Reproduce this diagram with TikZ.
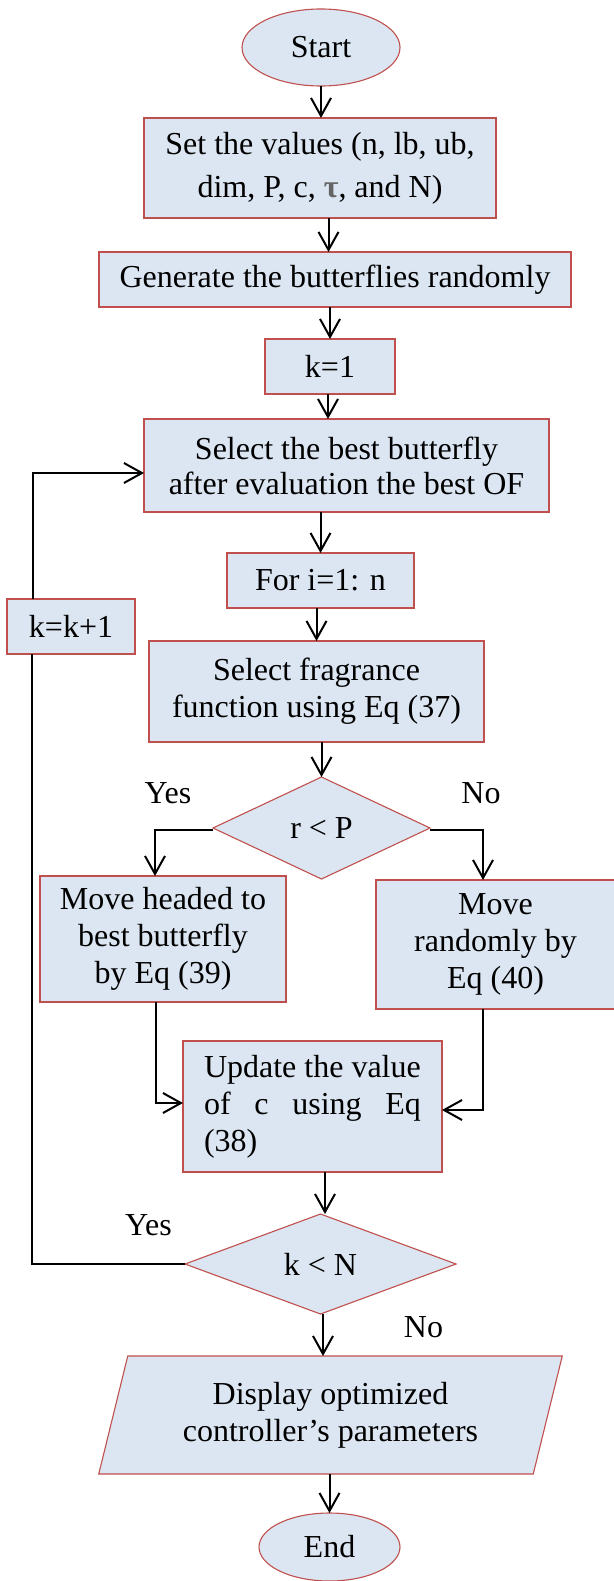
\documentclass[tikz,border=0pt]{standalone}
\usepackage{fontspec}
\setmainfont{Liberation Serif}
\usetikzlibrary{shapes.geometric,arrows.meta,calc,backgrounds}
\definecolor{boxfill}{RGB}{220,230,242}
\definecolor{boxline}{RGB}{192,80,77}
\definecolor{taugray}{RGB}{100,100,100}
\begin{document}
\begin{tikzpicture}[x=1pt,y=-1pt,
  every node/.style={font=\fontsize{32}{36.8}\selectfont, inner sep=0pt, outer sep=0pt},
  proc/.style={rectangle, draw=boxline, line width=1.1pt, fill=boxfill, align=center},
  term/.style={ellipse, draw=boxline, line width=1.1pt, fill=boxfill},
  cond/.style={diamond, draw=boxline, line width=1.1pt, fill=boxfill},
  flow/.style={line width=2pt, -{Straight Barb[length=18pt,width=20pt]}},
  link/.style={line width=2pt}]
\useasboundingbox (0,0) rectangle (613,1581);

% main column of steps
\node[term, minimum width=158pt, minimum height=77pt] (start) at (321,47.5) {Start};
\node[proc, minimum width=352pt, minimum height=100pt,
      font=\fontsize{32}{43.3}\selectfont] (set) at (320,168)
  {Set the values (n, lb, ub,\\dim, P, c, {\color{taugray}\bfseries τ}, and N)};
\node[proc, minimum width=472pt, minimum height=55pt] (gen) at (335,279.5)
  {Generate the butterflies randomly};
\node[proc, minimum width=130pt, minimum height=55pt] (k1) at (330,366.5) {k=1};
\node[proc, minimum width=405pt, minimum height=93pt,
      font=\fontsize{32}{35}\selectfont] (best) at (346.5,465.5)
  {Select the best butterfly\\after evaluation the best OF};
\node[proc, minimum width=187pt, minimum height=55pt] (fori) at (320.5,580.5) {For i=1: n};
\node[proc, minimum width=335pt, minimum height=101pt] (frag) at (316.5,691.5)
  {Select fragrance\\function using Eq (37)};
\node[proc, minimum width=128pt, minimum height=55pt] (kk) at (71,626.5) {k=k+1};

% first decision and its two branches
\node[cond, minimum width=217pt, minimum height=102pt] (d1) at (321.5,828) {r < P};
\node (yes1) at (168,793) {Yes};
\node (no1) at (481,793) {No};
\node[proc, minimum width=246pt, minimum height=126pt] (mvh) at (163,939)
  {Move headed to\\best butterfly\\by Eq (39)};
\node[proc, minimum width=239pt, minimum height=129pt] (mvr) at (495.5,944.5)
  {Move\\randomly by\\Eq (40)};
\node[proc, minimum width=259pt, minimum height=131pt, align=left] (upd) at (312.5,1106.5)
  {Update the value\\\makebox[217pt][s]{of c using Eq}\\(38)};

% loop test and output
\node[cond, minimum width=271pt, minimum height=100pt] (d2) at (320.5,1264) {k < N};
\node (yes2) at (148.5,1225) {Yes};
\node (no2) at (423.5,1327) {No};
\node[minimum width=434.5pt, minimum height=118pt, align=center] (disp) at (330.5,1415)
  {Display optimized\\controller’s parameters};
\begin{scope}[on background layer]
  \draw[draw=boxline, fill=boxfill, line width=1.1pt]
    ($(disp.north west)+(14.5,0)$) -- ($(disp.north east)+(14.5,0)$) --
    ($(disp.south east)+(-14.5,0)$) -- ($(disp.south west)+(-14.5,0)$) -- cycle;
\end{scope}
\node[term, minimum width=141pt, minimum height=68pt] (end) at (329.5,1547) {End};

% connector start points that sit off the node centres
\coordinate (setout) at ($(set.south)+(8.5,0)$);
\coordinate (k1out) at ($(k1.south)+(-2,0)$);
\coordinate (updout) at ($(upd.south)+(12.5,0)$);
\coordinate (d2out) at ($(d2.south)+(2.5,0)$);
\coordinate (mvhout) at ($(mvh.south)+(-7,0)$);
\coordinate (mvrout) at ($(mvr.south)+(-12.5,0)$);
\coordinate (mvhin) at ($(mvh.north)+(-8,0)$);
\coordinate (mvrin) at ($(mvr.north)+(-12.5,0)$);
\coordinate (updwin) at ($(upd.west)+(0,-3.5)$);
\coordinate (updein) at ($(upd.east)+(0,3.5)$);
\coordinate (d1w) at ($(d1.west)+(0,2)$);
\coordinate (d1e) at ($(d1.east)+(0,2)$);
\coordinate (loopdown) at ($(kk.south)+(-39,0)$);
\coordinate (loopup) at ($(kk.north)+(-38,0)$);
\coordinate (bestin) at ($(best.west)+(0,7.5)$);

% connectors
\draw[flow] (start.south) -- (start.south |- set.north);
\draw[flow] (setout) -- (setout |- gen.north);
\draw[flow] (k1 |- gen.south) -- (k1.north);
\draw[flow] (k1out) -- (k1out |- best.north);
\draw[flow] (fori |- best.south) -- (fori.north);
\draw[flow] (frag |- fori.south) -- (frag.north);
\draw[flow] (d1 |- frag.south) -- (d1.north);
\draw[flow] (d1w) -| (mvhin);
\draw[flow] (d1e) -| (mvrin);
\draw[flow] (mvhout) |- (updwin);
\draw[flow] (mvrout) |- (updein);
\draw[flow] (updout) -- (updout |- d2.north);
\draw[link] (d2.west) -| (loopdown);
\draw[flow] (loopup) |- (bestin);
\draw[flow] (d2out) -- (d2out |- disp.north);
\draw[flow] (end |- disp.south) -- (end.north);
\end{tikzpicture}
\end{document}
